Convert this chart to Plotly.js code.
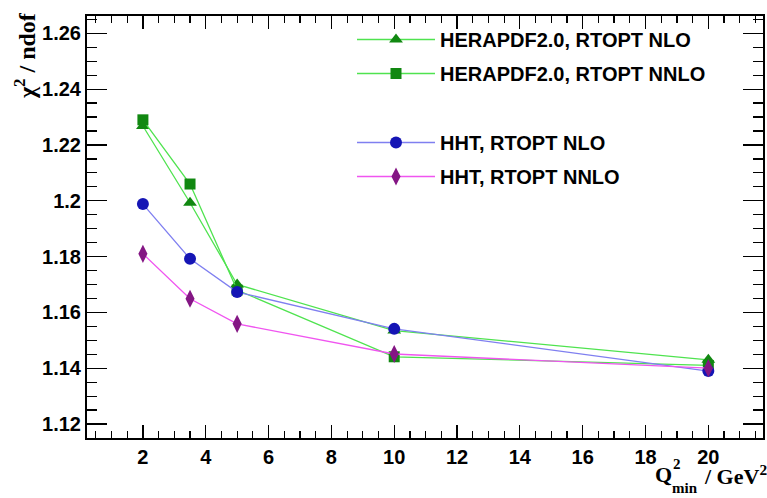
<!DOCTYPE html>
<html>
<head>
<meta charset="utf-8">
<script src="https://cdn.plot.ly/plotly-3.0.1.min.js"></script>
<style>html,body{margin:0;padding:0;background:#fff;}#chart{width:767px;height:498px;}</style>
</head>
<body>
<div id="chart"></div>
<script>
// Data
const q2min = [2, 3.5, 5, 10, 20];
const heraNLO  = [1.2268, 1.1993, 1.1700, 1.1535, 1.1430];
const heraNNLO = [1.2290, 1.2060, 1.1680, 1.1441, 1.1410];
const hhtNLO   = [1.1988, 1.1792, 1.1673, 1.1541, 1.1390];
const hhtNNLO  = [1.1810, 1.1649, 1.1559, 1.1451, 1.1400];
const names = ["HERAPDF2.0, RTOPT NLO", "HERAPDF2.0, RTOPT NNLO", "HHT, RTOPT NLO", "HHT, RTOPT NNLO"];

const L = 87, R = 4, T = 16, B = 60, W = 767, H = 498;
const pw = W - L - R, ph = H - T - B;
const px = v => (v - L) / pw;
const py = v => (H - B - v) / ph;

function tr(y, name, lineColor, markColor, symbol, size, legend, group) {
  return {
    x: q2min, y: y, name: name, type: 'scatter', mode: 'lines+markers',
    line: {color: lineColor, width: 1.3},
    marker: {color: markColor, symbol: symbol, size: size, line: {width: 0}},
    legend: legend, legendgroup: group
  };
}

const data = [
  tr(heraNLO, names[0], '#4fe34f', '#118811', 'triangle-up', 12, 'legend', 'a'),
  tr(heraNNLO, names[1], '#4fe34f', '#118811', 'square', 11, 'legend', 'b'),
  tr(hhtNLO, names[2], '#7f7ff0', '#1515b5', 'circle', 12, 'legend2', 'c'),
  tr(hhtNNLO, names[3], '#f055f0', '#841684', 'diamond-tall', 13, 'legend2', 'd')
];

const tickFont = {family: 'Liberation Sans, Arial, sans-serif', size: 20, weight: 'bold', color: '#000'};
const legFont = {family: 'Liberation Sans, Arial, sans-serif', size: 20, weight: 'bold', color: '#000'};
const serif = 'Liberation Serif, Times New Roman, serif';

const layout = {
  width: W, height: H,
  margin: {l: L, r: R, t: T, b: B},
  paper_bgcolor: '#fff', plot_bgcolor: '#fff',
  showlegend: true,
  xaxis: {
    range: [0.22, 21.74], tick0: 0, dtick: 2, ticks: 'inside', ticklen: 13, tickwidth: 1.2,
    tickcolor: '#000', showline: true, linecolor: '#000', linewidth: 2, mirror: 'allticks',
    showgrid: false, zeroline: false, tickfont: tickFont,
    minor: {dtick: 0.5, ticks: 'inside', ticklen: 7, tickwidth: 1.2, tickcolor: '#000', showgrid: false}
  },
  yaxis: {
    range: [1.115, 1.2662], tick0: 1.12, dtick: 0.02, ticks: 'inside', ticklen: 20, tickwidth: 1.2,
    tickcolor: '#000', showline: true, linecolor: '#000', linewidth: 2, mirror: 'allticks',
    showgrid: false, zeroline: false, tickfont: tickFont, ticklabelstandoff: 0,
    minor: {dtick: 0.005, ticks: 'inside', ticklen: 10, tickwidth: 1.2, tickcolor: '#000', showgrid: false}
  },
  legend: {
    x: px(352), y: py(20), xanchor: 'left', yanchor: 'top', bgcolor: 'rgba(0,0,0,0)',
    borderwidth: 0, font: legFont, itemwidth: 78, tracegroupgap: 5, traceorder: 'grouped'
  },
  legend2: {
    x: px(352), y: py(123), xanchor: 'left', yanchor: 'top', bgcolor: 'rgba(0,0,0,0)',
    borderwidth: 0, font: legFont, itemwidth: 78, tracegroupgap: 5, traceorder: 'grouped'
  },
  annotations: [
    {text: 'χ<sup>2</sup> / ndof', xref: 'paper', yref: 'paper', x: px(25), y: py(56),
     xanchor: 'center', yanchor: 'middle', textangle: -90, showarrow: false,
     font: {family: serif, size: 24, weight: 'bold', color: '#000'}},
    {text: 'Q', xref: 'paper', yref: 'paper', x: px(663), y: py(474),
     xanchor: 'center', yanchor: 'middle', showarrow: false,
     font: {family: serif, size: 22, weight: 'bold', color: '#000'}},
    {text: '2', xref: 'paper', yref: 'paper', x: px(677), y: py(464),
     xanchor: 'center', yanchor: 'middle', showarrow: false,
     font: {family: serif, size: 15, weight: 'bold', color: '#000'}},
    {text: 'min', xref: 'paper', yref: 'paper', x: px(685), y: py(488),
     xanchor: 'center', yanchor: 'middle', showarrow: false,
     font: {family: serif, size: 15, weight: 'bold', color: '#000'}},
    {text: '/ GeV<sup>2</sup>', xref: 'paper', yref: 'paper', x: px(702), y: py(475),
     xanchor: 'left', yanchor: 'middle', showarrow: false,
     font: {family: serif, size: 22, weight: 'bold', color: '#000'}}
  ]
};

Plotly.newPlot('chart', data, layout, {displayModeBar: false, staticPlot: true});
</script>
</body>
</html>
